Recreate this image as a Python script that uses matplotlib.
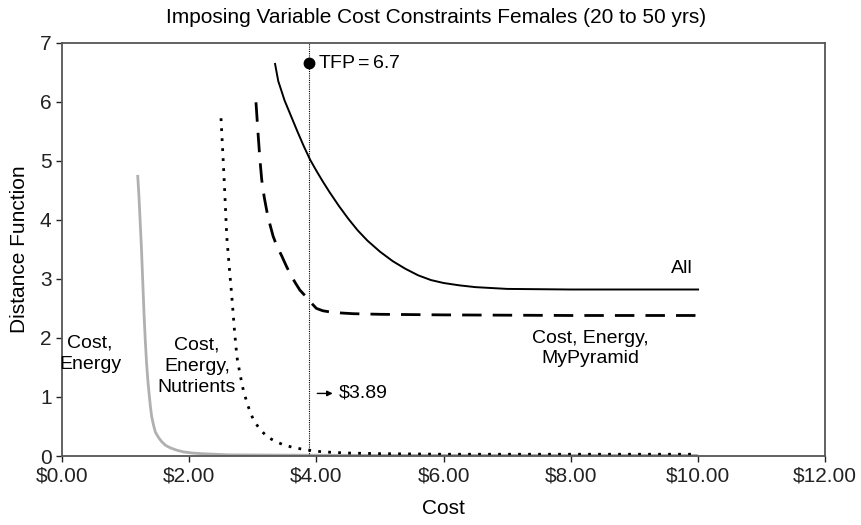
import matplotlib.pyplot as plt
from matplotlib.ticker import FuncFormatter

plt.rcParams['font.family'] = ['Liberation Sans', 'DejaVu Sans']

# Cost, Energy (gray)
energy_x = [1.19, 1.21, 1.23, 1.25, 1.27, 1.29, 1.31, 1.33, 1.35, 1.37, 1.39, 1.41, 1.44, 1.47, 1.52,
            1.57, 1.63, 1.70, 1.80, 1.91, 2.05, 2.20, 2.60, 3.50, 5.00, 10.0]
energy_y = [4.76, 4.40, 3.95, 3.50, 2.95, 2.40, 1.95, 1.57, 1.28, 1.05, 0.84, 0.67, 0.52, 0.40, 0.31,
            0.24, 0.18, 0.14, 0.10, 0.07, 0.05, 0.04, 0.02, 0.015, 0.01, 0.01]

# Cost, Energy, Nutrients (dotted)
nutr_x = [2.50, 2.53, 2.56, 2.59, 2.63, 2.67, 2.71, 2.75, 2.80, 2.85, 2.92, 3.01, 3.10, 3.22, 3.35,
          3.48, 3.65, 3.87, 4.10, 4.50, 5.00, 6.00, 10.0]
nutr_y = [5.72, 5.10, 4.45, 3.72, 3.20, 2.70, 2.15, 1.68, 1.38, 1.12, 0.86, 0.61, 0.47, 0.33, 0.25,
          0.19, 0.14, 0.10, 0.07, 0.05, 0.04, 0.03, 0.03]

# Cost, Energy, MyPyramid (dashed)
pyr_x = [3.05, 3.08, 3.11, 3.14, 3.18, 3.22, 3.27, 3.32, 3.38, 3.45, 3.53, 3.60, 3.67, 3.74, 3.80,
         3.87, 3.93, 4.00, 4.10, 4.27, 4.58, 5.00, 6.00, 8.00, 10.0]
pyr_y = [5.99, 5.50, 5.05, 4.68, 4.38, 4.15, 3.92, 3.72, 3.55, 3.40, 3.21, 3.06, 2.93, 2.81, 2.74,
         2.67, 2.58, 2.50, 2.46, 2.43, 2.41, 2.40, 2.39, 2.38, 2.38]

# All (solid)
all_x = [3.35, 3.40, 3.50, 3.60, 3.70, 3.80, 3.90, 4.00, 4.10, 4.20, 4.35, 4.50, 4.65, 4.80, 5.00,
         5.20, 5.40, 5.60, 5.80, 6.00, 6.25, 6.50, 7.00, 8.00, 10.0]
all_y = [6.64, 6.35, 6.02, 5.76, 5.50, 5.25, 5.02, 4.83, 4.65, 4.48, 4.24, 4.02, 3.82, 3.65, 3.46,
         3.30, 3.17, 3.06, 2.98, 2.93, 2.89, 2.86, 2.83, 2.82, 2.82]

tfp_cost = 3.89
tfp_value = 6.65

fig = plt.figure(figsize=(8.62, 5.25), dpi=100)
ax = fig.add_axes([0.0719, 0.1314, 0.8855, 0.7873])

ax.plot(energy_x, energy_y, color='#b0b0b0', lw=2.0, solid_capstyle='butt')
ax.plot(nutr_x, nutr_y, color='black', lw=2.0, linestyle=(0, (1.0, 2.6)))
ax.plot(pyr_x, pyr_y, color='black', lw=2.0, linestyle=(0, (7, 4)))
ax.plot(all_x, all_y, color='black', lw=1.4)

ax.axvline(tfp_cost, color='black', lw=0.8, linestyle=(0, (1, 1)))
ax.plot([tfp_cost], [tfp_value], 'o', color='black', ms=7.5)
ax.text(tfp_cost + 0.13, tfp_value, 'TFP$\\,$=$\\,$6.7', fontsize=14, va='center', ha='left')

ax.annotate('', xy=(4.3, 1.06), xytext=(3.97, 1.06),
            arrowprops=dict(arrowstyle='-|>', color='black', lw=1.0, mutation_scale=8))
ax.text(4.35, 1.06, '$3.89', fontsize=14, va='center', ha='left')

ax.text(9.92, 3.18, 'All', fontsize=14, ha='right', va='center')
ax.text(8.3, 1.82, 'Cost, Energy,\nMyPyramid', fontsize=14, ha='center', va='center', linespacing=1.3)
ax.text(0.44, 1.73, 'Cost,\nEnergy', fontsize=14, ha='center', va='center', linespacing=1.3)
ax.text(2.12, 1.52, 'Cost,\nEnergy,\nNutrients', fontsize=14, ha='center', va='center', linespacing=1.3)

ax.set_xlim(0, 12)
ax.set_ylim(0, 7)
ax.set_xticks([0, 2, 4, 6, 8, 10, 12])
ax.set_yticks(range(8))
ax.xaxis.set_major_formatter(FuncFormatter(lambda v, p: '${:.2f}'.format(v)))
ax.tick_params(direction='out', length=4, width=1, labelsize=15, colors='#222222')
for s in ax.spines.values():
    s.set_color('#555555')
    s.set_linewidth(1.3)

ax.set_xlabel('Cost', fontsize=15, labelpad=10)
ax.set_ylabel('Distance Function', fontsize=15, labelpad=8)
fig.suptitle('Imposing Variable Cost Constraints Females (20 to 50 yrs)', x=0.506, y=0.985,
             fontsize=15, va='top')

fig.savefig('out.png', dpi=100)
